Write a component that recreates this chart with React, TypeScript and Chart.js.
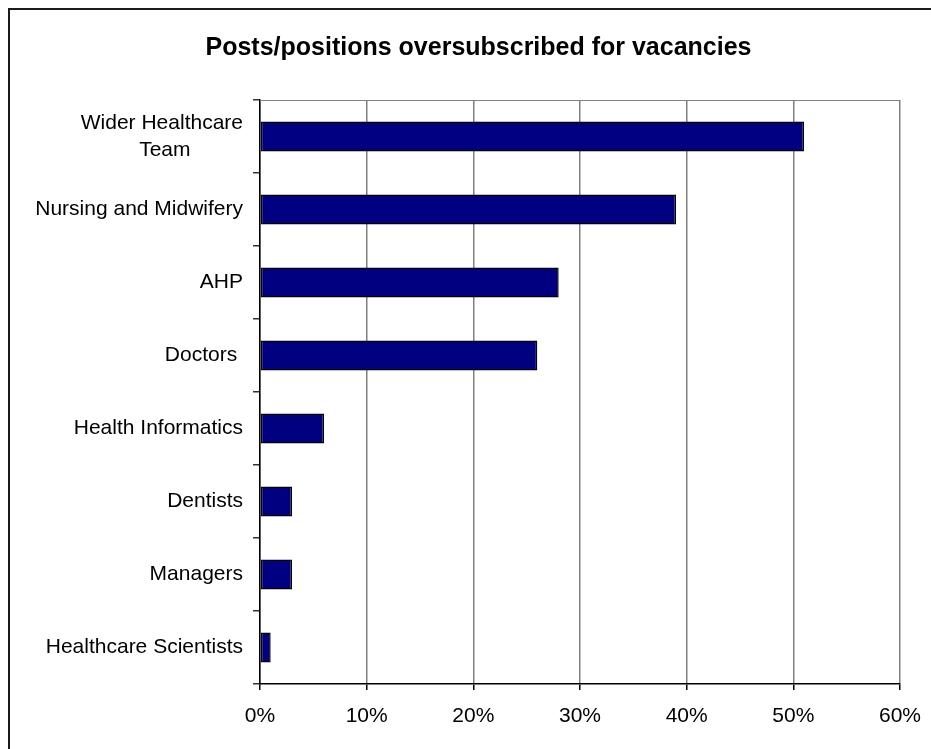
import React, { useEffect, useRef } from "react";
import { Chart, registerables } from "chart.js";

Chart.register(...registerables);

const TITLE = "Posts/positions oversubscribed for vacancies";
const categories: (string | string[])[] = [
  ["Wider Healthcare", "Team         "],
  "Nursing and Midwifery",
  "AHP",
  "Doctors ",
  "Health Informatics",
  "Dentists",
  "Managers",
  "Healthcare Scientists",
];
const oversubscribed = [51, 39, 28, 26, 6, 3, 3, 1];
const xTicksMin = 0;
const xTicksMax = 60;
const xTickStep = 10;

const FONT = "'Liberation Sans', Arial, sans-serif";

const framePlugin = {
  id: "frame",
  beforeDraw(chart: any) {
    const ctx = chart.ctx;
    ctx.save();
    ctx.fillStyle = "#ffffff";
    ctx.fillRect(0, 0, chart.width, chart.height);
    ctx.fillStyle = "#1a1a1a";
    ctx.fillRect(8, 8, 2, chart.height);
    ctx.fillRect(8, 8, chart.width, 2);
    ctx.fillStyle = "#000000";
    ctx.font = `bold 25px ${FONT}`;
    ctx.textAlign = "center";
    ctx.textBaseline = "middle";
    ctx.fillText(TITLE, 478.5, 48);
    ctx.restore();
  },
  afterDatasetsDraw(chart: any) {
    const { ctx, chartArea } = chart;
    ctx.save();
    ctx.strokeStyle = "#808080";
    ctx.lineWidth = 1;
    ctx.beginPath();
    ctx.moveTo(chartArea.left, chartArea.top + 0.5);
    ctx.lineTo(chartArea.right, chartArea.top + 0.5);
    ctx.stroke();
    ctx.restore();
  },
};

export default function App() {
  const ref = useRef<HTMLCanvasElement>(null);
  useEffect(() => {
    if (!ref.current) return;
    const chart = new Chart(ref.current, {
      type: "bar",
      data: {
        labels: categories,
        datasets: [
          {
            data: oversubscribed,
            backgroundColor: "#000080",
            borderColor: "#000000",
            borderWidth: 1.5,
            borderSkipped: false,
            categoryPercentage: 1,
            barPercentage: 0.41,
          },
        ],
      },
      options: {
        indexAxis: "y",
        animation: false,
        responsive: false,
        devicePixelRatio: 1,
        layout: { padding: { left: 0, right: 31, top: 100, bottom: 0 } },
        plugins: {
          legend: { display: false },
          tooltip: { enabled: false },
          title: { display: false },
        },
        scales: {
          x: {
            min: xTicksMin,
            max: xTicksMax,
            ticks: {
              stepSize: xTickStep,
              color: "#000000",
              font: { family: FONT, size: 21 },
              padding: 14,
              callback: (v: any) => `${v}%`,
              maxRotation: 0,
            },
            grid: {
              color: "#808080",
              lineWidth: 1.5,
              drawTicks: true,
              tickLength: 6,
              tickColor: "#000000",
            },
            border: { color: "#000000", width: 1.5 },
            afterFit: (s: any) => {
              s.height = 65;
              s.paddingRight = 0;
              s.paddingLeft = 0;
            },
          },
          y: {
            ticks: {
              color: "#000000",
              font: { family: FONT, size: 21, lineHeight: 1.3 },
              padding: 10,
              autoSkip: false,
            },
            grid: {
              drawOnChartArea: false,
              drawTicks: true,
              tickLength: 7,
              tickColor: "#333333",
              lineWidth: 1.5,
            },
            border: { color: "#000000", width: 1.5 },
            afterFit: (s: any) => {
              s.width = 260;
              s.paddingTop = 0;
              s.paddingBottom = 0;
            },
          },
        },
      },
      plugins: [framePlugin],
    });
    return () => chart.destroy();
  }, []);
  return (
    <div style={{ position: "fixed", left: 0, top: 0, width: 931, height: 749, overflow: "hidden" }}>
      <canvas ref={ref} width={931} height={749} style={{ display: "block" }} />
    </div>
  );
}
